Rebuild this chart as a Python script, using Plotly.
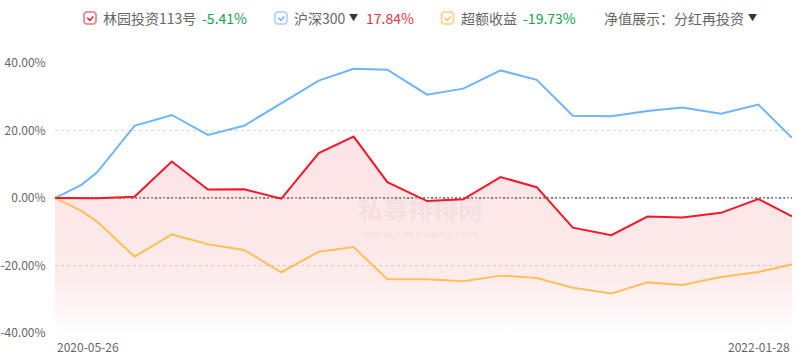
import plotly.graph_objects as go

# ---------------- data ----------------
dates = ["2020-05-26", "2020-06-17", "2020-06-30", "2020-07-31", "2020-08-31", "2020-09-30",
         "2020-10-30", "2020-11-30", "2020-12-31", "2021-01-29", "2021-02-26", "2021-03-31",
         "2021-04-30", "2021-05-31", "2021-06-30", "2021-07-30", "2021-08-31", "2021-09-30",
         "2021-10-29", "2021-11-30", "2021-12-31", "2022-01-28"]
fund = [0, -0.1, -0.05, 0.4, 10.8, 2.5, 2.6, -0.2, 13.3, 18.2, 4.7, -0.9,
        -0.4, 6.2, 3.2, -8.8, -11.0, -5.5, -5.8, -4.4, -0.3, -5.41]
hs300 = [0, 3.9, 7.6, 21.4, 24.6, 18.7, 21.4, 28.1, 34.8, 38.3, 38.0, 30.6,
         32.4, 37.8, 35.0, 24.4, 24.2, 25.8, 26.8, 25.0, 27.7, 17.84]
excess = [0, -3.8, -7.0, -17.4, -10.8, -13.7, -15.4, -22.0, -15.9, -14.5, -24.1, -24.1,
          -24.7, -23.0, -23.7, -26.6, -28.3, -25.0, -25.8, -23.4, -21.9, -19.73]
series_names = ["林园投资113号", "沪深300", "超额收益"]
final_values = ["-5.41%", "17.84%", "-19.73%"]
y_ticks = [-40, -20, 0, 20, 40]
y_tick_labels = ["-40.00%", "-20.00%", "0.00%", "20.00%", "40.00%"]
Y_MIN, Y_MAX = -40, 40

# ---------------- style ----------------
W, H = 798, 358
L, R, T, B = 55, 6, 63, 25
PW, PH = W - L - R, H - T - B
RED = "#f0192a"
BLUE = "#70b4fa"
YELLOW = "#ffc05a"
GRAY = "#666666"
GREEN = "#16a04e"
VAL_RED = "#e8333a"
FONT = "Noto Sans CJK SC, Noto Sans, sans-serif"


def px(x):  # window pixel -> paper
    return (x - L) / PW


def py(y):
    return (H - B - y) / PH


fig = go.Figure()

# floor for the area fill (axis minimum)
fig.add_trace(go.Scatter(x=dates, y=[Y_MIN] * len(dates), mode="lines",
                         line=dict(width=0, color="rgba(0,0,0,0)"),
                         hoverinfo="skip", showlegend=False))
fig.add_trace(go.Scatter(
    x=dates, y=fund, mode="lines", fill="tonexty",
    line=dict(width=0, color="rgba(0,0,0,0)"),
    fillgradient=dict(type="vertical", start=Y_MIN, stop=max(fund),
                      colorscale=[[0, "rgba(240,40,50,0)"], [0.1, "rgba(240,40,50,0.04)"],
                                  [0.3, "rgba(240,40,50,0.095)"], [1, "rgba(240,40,50,0.13)"]]),
    hoverinfo="skip", showlegend=False))

fig.add_trace(go.Scatter(x=dates, y=hs300, mode="lines", name=series_names[1],
                         line=dict(color=BLUE, width=2), showlegend=False))
fig.add_trace(go.Scatter(x=dates, y=excess, mode="lines", name=series_names[2],
                         line=dict(color=YELLOW, width=2), showlegend=False))
fig.add_trace(go.Scatter(x=dates, y=fund, mode="lines", name=series_names[0],
                         line=dict(color=RED, width=2), showlegend=False))

annotations = []
shapes = [dict(type="line", xref="paper", x0=0, x1=1, yref="y", y0=0, y1=0,
               line=dict(color="#000000", width=1, dash="2px,2px"), layer="below")]


def checkbox(x0, y0, color, border):
    s = 12
    r = 2
    pts = [(x0 + r, y0), (x0 + s - r, y0), (x0 + s, y0 + r), (x0 + s, y0 + s - r),
           (x0 + s - r, y0 + s), (x0 + r, y0 + s), (x0, y0 + s - r), (x0, y0 + r)]
    path = "M " + " L ".join(f"{px(a):.5f},{py(b):.5f}" for a, b in pts) + " Z"
    shapes.append(dict(type="path", xref="paper", yref="paper", path=path,
                       line=dict(color=border, width=1.5), fillcolor="white"))
    ck = [(x0 + 3.2, y0 + 5.8), (x0 + 6, y0 + 8.4), (x0 + 9.2, y0 + 4.6)]
    path2 = "M " + " L ".join(f"{px(a):.5f},{py(b):.5f}" for a, b in ck)
    shapes.append(dict(type="path", xref="paper", yref="paper", path=path2,
                       line=dict(color=color, width=1.5)))


def text(x, y, t, color, size=14, anchor="left"):
    annotations.append(dict(x=px(x), y=py(y), xref="paper", yref="paper", text=t,
                            showarrow=False, xanchor=anchor, yanchor="middle",
                            font=dict(family=FONT, size=size, color=color)))


LY = 18
checkbox(84, 12, RED, "#f2707a")
text(101, LY, series_names[0], GRAY)
text(200, LY, final_values[0], GREEN)
checkbox(275, 12, BLUE, "#a5cffb")
text(292, LY, series_names[1], GRAY)
text(353, LY, "▼", "#333333", size=9, anchor="center")
text(364, LY, final_values[1], VAL_RED)
checkbox(441.5, 12, YELLOW, "#ffcf70")
text(459, LY, series_names[2], GRAY)
text(521, LY, final_values[2], GREEN)
text(602, LY, "净值展示：分红再投资", GRAY)
text(752.5, LY, "▼", "#333333", size=9, anchor="center")

# x-axis end labels
annotations.append(dict(x=dates[0], y=0, xref="x", yref="paper", text=dates[0],
                        showarrow=False, xanchor="left", yanchor="middle", yshift=-13.5,
                        font=dict(family=FONT, size=12, color=GRAY)))
annotations.append(dict(x=dates[-1], y=0, xref="x", yref="paper", text=dates[-1],
                        showarrow=False, xanchor="right", yanchor="middle", yshift=-13.5,
                        font=dict(family=FONT, size=12, color=GRAY)))

# watermark
annotations.append(dict(x=px(420), y=py(208), xref="paper", yref="paper", text="<b>私募排排网</b>",
                        showarrow=False, xanchor="center", yanchor="middle",
                        font=dict(family=FONT, size=25, color="rgba(110,110,110,0.08)")))
annotations.append(dict(x=px(421), y=py(234), xref="paper", yref="paper", text="<b>www.simuwang.com</b>",
                        showarrow=False, xanchor="center", yanchor="middle",
                        font=dict(family="DejaVu Sans, sans-serif", size=10, color="rgba(110,110,110,0.07)")))

fig.update_layout(
    width=W, height=H, margin=dict(l=L, r=R, t=T, b=B, autoexpand=False),
    paper_bgcolor="white", plot_bgcolor="white",
    showlegend=False, annotations=annotations, shapes=shapes,
    xaxis=dict(type="date", range=[dates[0], dates[-1]], showgrid=False, showticklabels=False,
               zeroline=False, showline=False, ticks="", automargin=False),
    yaxis=dict(range=[Y_MIN, Y_MAX], tickmode="array", tickvals=y_ticks, ticktext=y_tick_labels,
               showgrid=True, gridcolor="#d9d9d9", griddash="3px,3px", gridwidth=1,
               zeroline=False, showline=False, ticks="outside", ticklen=6,
               tickcolor="rgba(0,0,0,0)", automargin=False,
               tickfont=dict(family=FONT, size=12, color=GRAY)),
)

fig.write_html("out.html", config={"displayModeBar": False},
               post_script="document.body.style.margin='0';document.body.style.overflow='hidden';")
